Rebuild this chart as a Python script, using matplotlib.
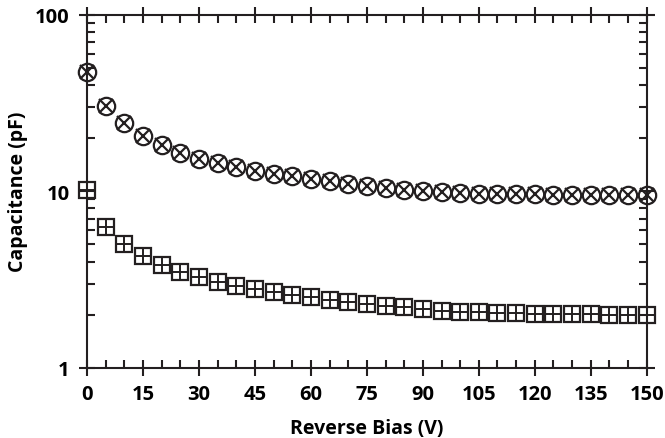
import matplotlib
matplotlib.use('Agg')
import matplotlib.pyplot as plt
from matplotlib.ticker import MultipleLocator, FixedLocator, FixedFormatter, LogLocator, NullFormatter

plt.rcParams['font.family'] = ['Open Sans', 'DejaVu Sans']
plt.rcParams['font.weight'] = 'bold'

bias = list(range(0, 151, 5))
# circle-with-x series
cap_a = [47.5, 30.3, 24.3, 20.6, 18.3, 16.5, 15.2, 14.4, 13.7, 13.1, 12.6,
         12.2, 11.8, 11.4, 11.0, 10.7, 10.4, 10.2, 10.0, 9.9, 9.8, 9.7,
         9.65, 9.6, 9.6, 9.55, 9.55, 9.5, 9.5, 9.5, 9.5]
# square-with-plus series
cap_b = [10.2, 6.3, 5.0, 4.28, 3.82, 3.5, 3.28, 3.07, 2.92, 2.79, 2.68,
         2.6, 2.51, 2.42, 2.35, 2.29, 2.24, 2.2, 2.15, 2.11, 2.08, 2.06,
         2.04, 2.03, 2.02, 2.02, 2.01, 2.01, 2.0, 2.0, 2.0]

y_ticks = [1, 10, 100]
y_labels = ['1', '10', '100']

fig = plt.figure(figsize=(6.65, 4.39), dpi=100)
ax = fig.add_axes([0.131, 0.160, 0.8415, 0.804])

ink = '#231f20'
mk = dict(linestyle='none', color=ink, clip_on=False, zorder=5)
ax.plot(bias, cap_a, marker='o', markersize=12.5, markerfacecolor='none',
        markeredgewidth=1.6, **mk)
ax.plot(bias, cap_a, marker='x', markersize=10.5, markeredgewidth=1.6, **mk)
ax.plot(bias, cap_b, marker='s', markersize=12, markerfacecolor='none',
        markeredgewidth=1.6, **mk)
ax.plot(bias, cap_b, marker='+', markersize=12, markeredgewidth=1.4, **mk)

ax.set_yscale('log')
ax.set_xlim(0, 150)
ax.set_ylim(1, 100)

ax.xaxis.set_major_locator(MultipleLocator(15))
ax.xaxis.set_minor_locator(MultipleLocator(5))
ax.yaxis.set_major_locator(FixedLocator(y_ticks))
ax.yaxis.set_major_formatter(FixedFormatter(y_labels))
ax.yaxis.set_minor_locator(LogLocator(base=10, subs=range(2, 10)))
ax.yaxis.set_minor_formatter(NullFormatter())

for s in ax.spines.values():
    s.set_linewidth(1.5)
    s.set_color(ink)

ax.tick_params(which='major', direction='inout', length=11, width=1.5,
               top=True, right=True, color=ink, labelsize=14.5)
ax.tick_params(axis='x', which='major', pad=6)
ax.tick_params(axis='y', which='major', pad=7)
ax.tick_params(which='minor', direction='in', length=5.5, width=1.5,
               top=True, right=True, color=ink)

ax.set_xlabel('Reverse Bias (V)', fontsize=14, fontweight='bold', labelpad=10)
ax.set_ylabel('Capacitance (pF)', fontsize=14, fontweight='bold', labelpad=5)

fig.savefig('out.png', dpi=100)
